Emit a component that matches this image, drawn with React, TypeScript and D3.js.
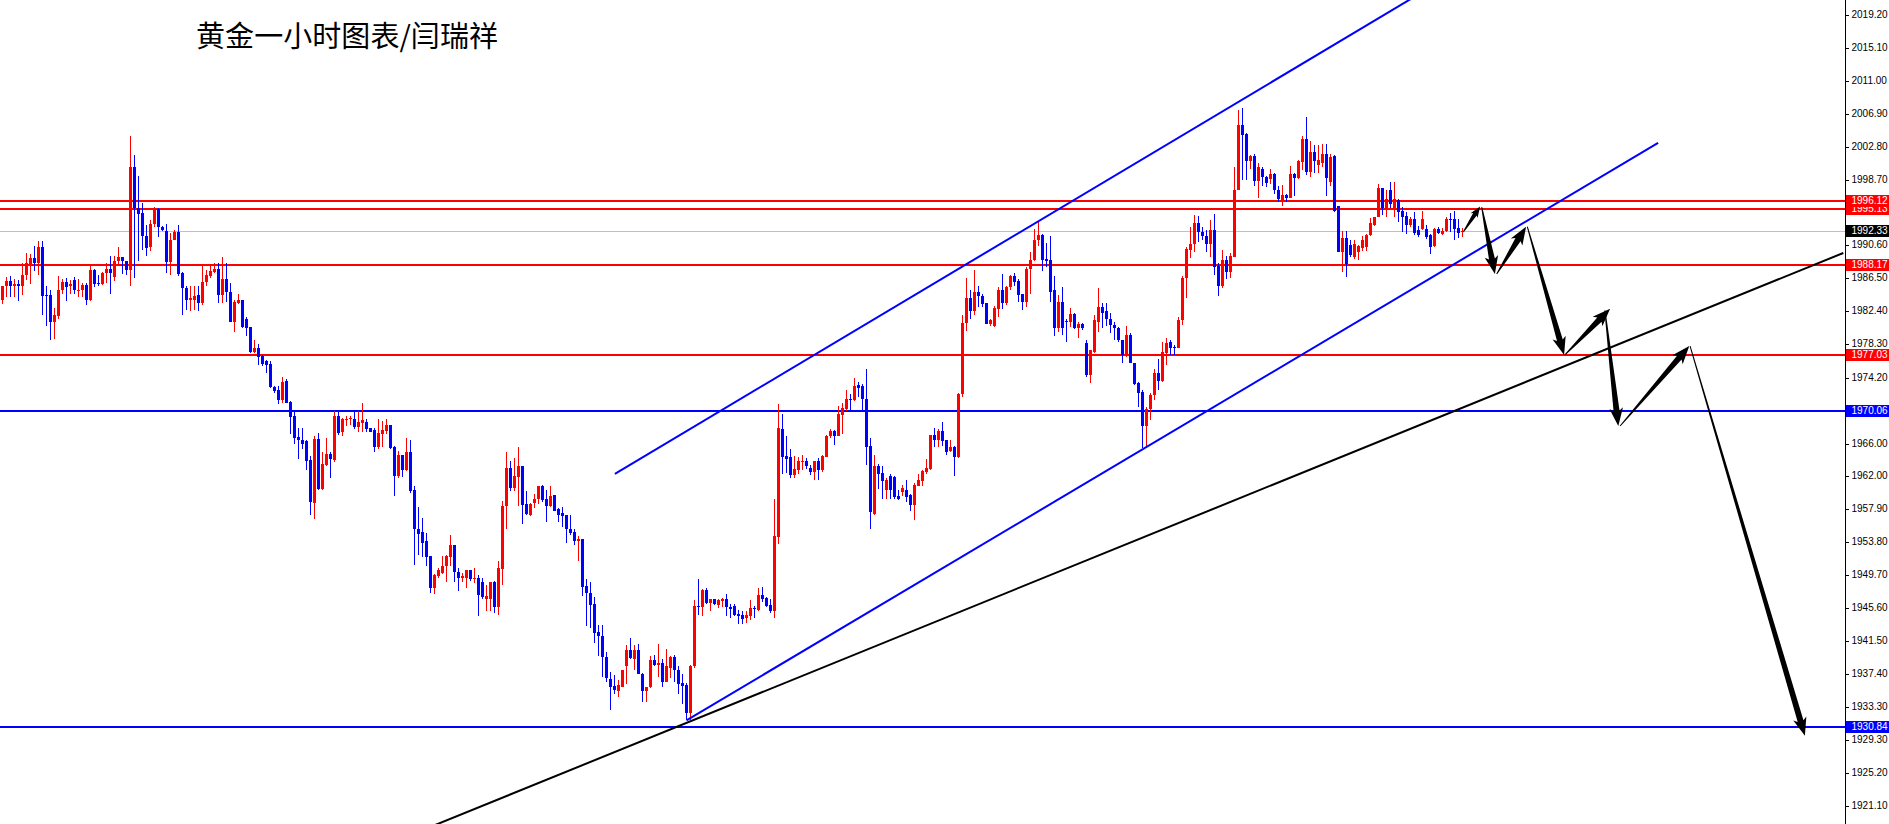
import React from 'react';
import * as d3 from 'd3';

const W = 1889;
const H = 824;
const AXIS_X = 1845;

// candles: [open, high, low, close]
const candlesA: number[][] = [
  [1983.8,1985.6,1983.3,1985.5],[1985.5,1986.7,1984.2,1986.2],[1986.2,1986.8,1984.2,1985.5],[1985.5,1986.4,1984.2,1985.8],
  [1985.8,1986.3,1983.7,1985.5],[1985.5,1988.4,1984.4,1986.9],[1986.9,1989.6,1986.3,1988.4],[1988.2,1989.5,1985.8,1989.0],
  [1989.0,1990.5,1987.4,1988.4],[1988.4,1991.1,1986.9,1990.4],[1990.4,1991.1,1981.9,1984.3],[1984.4,1985.5,1980.6,1984.3],
  [1984.4,1985.1,1978.8,1981.1],[1981.1,1982.8,1979.0,1981.9],[1981.8,1986.8,1981.5,1985.1],[1985.1,1986.4,1984.6,1986.0],
  [1986.0,1986.5,1983.7,1985.4],[1985.5,1986.3,1984.6,1985.8],[1986.3,1986.7,1984.6,1985.0],[1985.0,1986.4,1984.2,1985.1],
  [1985.0,1985.9,1984.2,1985.7],[1985.7,1985.9,1983.2,1983.8],[1983.8,1988.1,1983.7,1987.5],[1987.5,1987.6,1985.4,1985.8],
  [1985.9,1986.9,1985.5,1985.8],[1985.8,1987.3,1985.7,1987.1],[1987.1,1988.4,1985.9,1987.7],[1987.7,1989.3,1984.6,1987.1],
  [1986.6,1989.3,1986.2,1988.6],[1988.6,1990.4,1988.3,1989.2],[1989.2,1989.2,1987.0,1988.6],[1988.6,1988.6,1986.9,1987.5],
  [1987.5,2004.1,1985.6,2000.3],[2000.3,2001.8,1986.5,1995.2],[1995.2,1999.2,1988.7,1994.5],[1994.6,1995.8,1990.0,1991.7],
  [1991.7,1993.1,1989.3,1990.3],[1990.4,1993.7,1989.9,1993.2],[1993.2,1995.3,1992.9,1995.2],[1995.1,1995.2,1991.6,1992.8],
  [1992.9,1993.0,1992.4,1992.5],[1992.4,1993.2,1987.1,1988.5],[1988.5,1992.1,1986.9,1991.2],[1991.2,1992.5,1991.2,1992.2],
  [1992.2,1993.1,1986.8,1987.0],[1987.1,1987.3,1981.9,1985.3],[1985.3,1985.5,1982.6,1983.8],[1983.8,1985.5,1982.4,1984.1],
  [1983.8,1985.5,1982.6,1984.3],[1984.4,1985.5,1982.4,1983.4],[1983.4,1988.1,1983.2,1986.1],[1986.0,1987.5,1985.5,1986.9],
  [1986.8,1988.3,1986.5,1987.4],[1987.3,1988.4,1987.1,1987.7],[1987.7,1988.4,1983.4,1984.4],[1984.4,1989.2,1983.4,1986.4],
  [1986.4,1988.4,1983.6,1984.8],[1984.8,1985.9,1981.1,1981.1],[1981.1,1983.8,1979.9,1983.6],[1983.5,1984.5,1983.3,1983.8],
  [1983.8,1983.8,1980.3,1980.5],[1981.5,1981.7,1979.3,1980.4],[1980.5,1980.5,1977.2,1977.4],[1977.4,1978.9,1977.2,1977.8],
  [1977.9,1978.4,1975.8,1976.8],[1976.9,1977.0,1975.6,1975.9],
];

const candlesB: number[][] = [
  [1976.2,1976.4,1974.8,1975.8],[1975.9,1976.2,1972.9,1973.0],[1973.0,1973.1,1972.3,1972.5],[1972.7,1973.1,1970.9,1971.4],
  [1971.4,1974.3,1971.1,1973.7],[1973.8,1974.0,1971.0,1971.1],[1971.2,1971.3,1967.2,1969.3],[1969.4,1970.2,1966.0,1966.7],
  [1966.8,1967.9,1964.1,1966.4],[1966.5,1968.0,1965.4,1966.0],[1966.3,1966.5,1962.7,1963.9],[1964.0,1964.5,1957.2,1958.8],
  [1958.7,1967.0,1956.7,1966.6],[1966.6,1967.3,1960.2,1960.4],[1960.4,1965.0,1960.3,1963.5],[1963.4,1966.7,1963.2,1964.7],
  [1964.7,1965.0,1961.8,1964.1],[1964.0,1970.0,1963.7,1969.4],[1969.4,1970.0,1967.1,1967.3],[1967.5,1969.2,1966.9,1969.1],
  [1969.0,1969.4,1968.2,1969.1],[1969.0,1969.4,1968.3,1969.2],[1969.1,1970.2,1967.8,1968.1],[1968.1,1970.0,1967.5,1968.7],
  [1968.6,1971.1,1967.4,1968.9],[1968.7,1969.0,1967.5,1967.8],[1967.9,1968.0,1967.4,1967.5],[1967.7,1968.0,1965.0,1965.6],
  [1965.6,1969.1,1965.4,1967.3],[1967.2,1968.8,1965.6,1967.7],[1967.6,1969.0,1967.2,1968.3],[1968.3,1968.3,1965.3,1965.5],
  [1965.6,1965.7,1959.5,1962.0],[1962.0,1965.1,1961.8,1964.6],[1964.6,1964.6,1961.9,1962.7],[1962.7,1966.7,1962.6,1965.0],
  [1965.0,1966.5,1959.9,1960.1],[1960.3,1960.7,1950.9,1955.4],[1955.4,1958.1,1952.2,1954.8],[1955.0,1956.8,1952.0,1953.7],
  [1953.9,1954.9,1950.8,1952.0],[1952.1,1952.1,1947.5,1948.1],[1948.1,1949.9,1947.4,1949.7],[1949.6,1950.6,1949.4,1950.3],
  [1950.0,1952.1,1949.9,1950.8],[1950.8,1952.2,1948.9,1952.1],[1952.0,1954.7,1950.8,1953.4],[1953.4,1953.4,1948.9,1950.1],
  [1950.1,1950.6,1947.8,1949.3],[1949.3,1950.0,1948.9,1949.6],[1949.4,1950.4,1948.1,1950.3],[1950.3,1950.4,1949.0,1949.2],
  [1949.2,1950.6,1948.7,1949.4],[1949.4,1949.7,1944.6,1947.2],[1948.8,1949.3,1946.7,1947.0],[1946.8,1948.5,1945.3,1947.1],
  [1946.8,1948.9,1945.2,1948.8],[1948.8,1949.0,1945.0,1945.8],[1945.8,1951.5,1944.8,1950.6],[1950.5,1958.9,1948.5,1958.3],
  [1958.3,1965.0,1955.4,1963.0],[1963.0,1963.9,1960.1,1960.5],[1960.5,1964.2,1960.1,1962.0],[1961.9,1965.6,1958.3,1963.2],
  [1963.2,1963.2,1956.0,1958.4],[1958.5,1960.1,1957.2,1957.3],[1957.2,1958.7,1957.0,1958.5],[1958.7,1959.8,1958.0,1959.1],
  [1959.1,1960.8,1958.5,1960.7],[1960.7,1960.9,1958.8,1959.0],[1959.1,1960.3,1956.3,1958.3],[1958.3,1960.7,1958.2,1959.5],
  [1959.6,1959.6,1957.6,1957.7],[1957.9,1958.0,1956.3,1957.2],[1957.4,1958.2,1955.7,1957.0],[1957.1,1957.2,1953.7,1955.4],
  [1955.4,1957.2,1954.7,1954.9],[1955.0,1955.4,1953.4,1953.9],[1953.9,1954.5,1951.5,1954.2],[1954.2,1954.2,1947.1,1948.2],
  [1948.4,1949.2,1943.4,1947.5],[1947.5,1948.8,1943.1,1946.0],[1946.1,1947.0,1941.3,1942.5],[1942.6,1943.5,1939.7,1942.1],
  [1942.2,1943.5,1937.1,1939.6],[1939.6,1940.2,1936.5,1937.0],[1936.8,1937.7,1933.0,1935.9],[1936.0,1937.3,1935.0,1935.5],
  [1935.4,1936.7,1934.6,1936.1],
];

const candlesC: number[][] = [
  [1935.9,1937.9,1935.8,1937.9],[1938.5,1941.1,1936.2,1940.4],[1940.4,1941.9,1939.3,1939.4],[1939.3,1941.1,1938.0,1940.4],
  [1940.4,1941.2,1937.5,1937.5],[1937.5,1937.6,1934.0,1935.3],[1935.3,1935.9,1934.0,1935.8],[1935.8,1939.7,1935.7,1939.2],
  [1939.2,1939.8,1938.5,1938.6],[1938.6,1941.2,1937.1,1938.8],[1938.8,1939.3,1935.9,1936.5],[1936.5,1940.6,1936.4,1938.4],
  [1938.2,1939.7,1937.0,1939.6],[1939.6,1939.8,1936.5,1938.0],[1938.0,1938.4,1935.0,1936.2],[1936.3,1937.4,1933.7,1936.0],
  [1936.1,1936.3,1931.7,1932.6],[1932.6,1938.6,1931.8,1938.4],[1938.4,1946.6,1938.2,1945.9],[1945.9,1949.2,1944.8,1945.7],
  [1945.8,1948.0,1944.6,1947.9],[1947.9,1948.1,1946.1,1946.2],[1946.2,1946.8,1945.2,1946.7],[1946.7,1946.7,1946.0,1946.1],
  [1946.0,1946.7,1945.6,1946.6],[1946.5,1946.9,1945.8,1946.8],[1946.8,1947.4,1944.6,1945.7],[1945.8,1946.1,1944.4,1945.5],
  [1945.9,1946.1,1944.6,1944.8],[1944.9,1945.4,1943.7,1944.6],[1944.8,1945.3,1943.7,1944.3],[1944.4,1945.3,1943.8,1944.8],
  [1944.6,1946.6,1944.2,1945.6],[1945.6,1945.9,1944.4,1945.5],[1945.4,1948.1,1945.3,1947.3],[1947.3,1948.2,1946.4,1946.8],
  [1946.9,1947.0,1945.7,1945.9],[1946.0,1946.7,1945.0,1945.2],[1945.2,1959.1,1944.4,1954.5],[1954.4,1970.9,1953.6,1967.9],
  [1967.8,1969.7,1962.3,1964.4],[1964.5,1966.9,1962.4,1964.1],[1964.3,1965.3,1961.7,1962.1],[1962.1,1964.5,1961.7,1962.9],
  [1962.7,1964.3,1962.2,1963.8],[1963.8,1964.6,1962.7,1963.9],[1963.9,1964.2,1962.8,1963.2],[1963.0,1963.4,1962.1,1962.5],
  [1962.5,1963.9,1961.5,1963.8],[1963.8,1964.2,1961.5,1962.7],[1962.7,1964.6,1962.5,1964.5],[1964.4,1967.1,1964.3,1967.0],
  [1966.9,1967.8,1966.7,1967.6],[1967.6,1967.7,1965.8,1967.0],[1967.0,1970.7,1966.9,1969.7],[1969.6,1971.1,1967.2,1970.4],
  [1970.3,1972.7,1970.0,1971.6],[1971.5,1972.2,1969.9,1971.4],[1971.4,1974.1,1971.3,1973.2],[1973.3,1973.7,1971.8,1972.9],
  [1973.1,1973.4,1970.2,1971.5],[1971.6,1975.3,1963.4,1965.6],[1965.7,1966.7,1955.4,1957.5],[1957.3,1964.6,1957.2,1963.2],
  [1963.2,1963.5,1960.4,1962.3],[1962.4,1963.2,1959.2,1961.4],[1960.3,1961.8,1959.1,1961.5],[1962.0,1962.3,1959.2,1960.3],
  [1961.9,1962.0,1959.1,1959.4],[1959.5,1960.3,1959.0,1959.1],[1960.0,1960.9,1959.5,1960.5],[1960.3,1961.5,1958.8,1959.4],
  [1959.6,1959.8,1957.7,1958.4],[1958.4,1961.1,1956.5,1960.9],[1960.8,1962.2,1960.8,1961.5],[1961.4,1962.7,1960.8,1962.6],
  [1962.5,1964.1,1962.3,1963.0],[1962.8,1967.1,1962.7,1967.1],[1967.1,1967.9,1965.6,1966.5],[1966.5,1967.8,1965.6,1967.6],
  [1967.6,1968.7,1965.7,1966.3],[1966.4,1966.5,1964.6,1965.0],[1965.1,1966.5,1965.0,1965.6],[1965.6,1965.7,1962.0,1964.3],
  [1964.3,1972.3,1964.2,1972.2],[1972.2,1982.0,1971.8,1981.0],[1981.0,1986.5,1980.0,1984.0],[1984.0,1985.0,1981.5,1982.5],
  [1982.5,1987.5,1982.0,1984.8],[1984.8,1985.5,1983.0,1984.3],
];

const candlesD: number[][] = [
  [1984.3,1984.6,1983.0,1983.3],[1983.4,1983.5,1980.8,1980.8],[1980.8,1981.5,1980.6,1981.3],[1980.6,1983.1,1980.5,1982.8],
  [1982.7,1985.4,1981.7,1985.1],[1985.1,1987.0,1982.7,1983.5],[1983.5,1985.5,1983.2,1985.4],[1985.4,1986.9,1985.1,1986.8],
  [1986.8,1987.2,1985.5,1986.1],[1986.2,1986.4,1983.6,1984.4],[1984.6,1984.6,1982.6,1983.6],[1983.6,1987.9,1982.9,1987.7],
  [1987.7,1989.8,1984.6,1988.8],[1988.8,1992.6,1988.7,1991.3],[1991.2,1993.5,1990.5,1991.9],[1991.9,1992.0,1987.4,1988.8],
  [1988.9,1990.9,1987.9,1988.6],[1988.8,1991.7,1983.6,1984.8],[1985.0,1986.8,1979.3,1980.4],[1980.3,1984.4,1979.9,1983.6],
  [1983.6,1985.4,1979.5,1980.3],[1981.2,1981.4,1978.6,1981.1],[1981.1,1982.8,1980.5,1982.1],[1982.1,1982.2,1980.2,1980.3],
  [1980.3,1981.1,1979.1,1980.8],[1980.8,1981.0,1980.1,1980.4],[1978.5,1978.9,1974.3,1974.5],[1974.5,1977.6,1973.5,1977.6],
  [1977.4,1981.9,1977.3,1981.3],[1981.1,1985.3,1979.9,1983.0],[1983.0,1983.4,1980.3,1982.2],[1982.4,1983.4,1980.6,1981.5],
  [1981.5,1982.2,1979.7,1980.7],[1980.7,1981.1,1978.9,1980.3],[1980.3,1980.5,1978.6,1978.8],[1978.8,1978.9,1976.0,1977.0],
  [1977.0,1980.6,1976.8,1979.5],[1979.5,1979.7,1976.0,1976.0],[1976.0,1976.0,1973.3,1973.4],[1973.5,1973.6,1970.6,1972.3],
  [1972.4,1972.6,1965.5,1968.2],[1968.2,1970.5,1965.7,1970.3],[1970.3,1972.3,1968.9,1972.0],[1972.0,1975.3,1971.4,1974.8],
  [1974.7,1976.5,1972.6,1973.8],[1973.8,1978.6,1973.6,1977.4],[1977.3,1979.1,1975.7,1978.5],[1978.6,1978.9,1977.0,1977.8],
  [1978.0,1978.2,1977.0,1977.8],[1977.8,1981.7,1977.8,1981.3],[1981.3,1986.8,1980.7,1986.5],[1986.5,1990.4,1984.0,1990.1],
  [1990.0,1992.8,1989.0,1990.8],[1990.7,1994.3,1989.7,1993.4],[1993.4,1994.2,1991.0,1992.2],
];

const candlesE: number[][] = [
  [1992.2,1992.9,1991.2,1991.7],[1991.7,1992.5,1989.7,1990.7],[1990.7,1993.7,1989.2,1992.5],[1992.5,1994.5,1986.9,1987.9],
  [1988.0,1988.4,1984.3,1985.5],[1985.5,1990.0,1985.3,1988.8],[1988.8,1989.3,1986.4,1987.3],[1987.3,1989.6,1986.5,1989.3],
  [1989.2,2000.3,1989.2,1997.5],[1997.4,2007.4,1997.4,2005.5],[2005.5,2007.6,1998.7,2004.3],[2004.4,2004.5,1998.7,2001.1],
  [2001.1,2001.8,2000.1,2001.7],[2001.7,2001.9,1997.9,1998.6],[1998.6,2000.8,1996.4,2000.3],[2000.1,2000.3,1997.9,1999.1],
  [1999.1,1999.2,1997.8,1998.3],[1998.8,2000.0,1998.2,1999.4],[1999.4,1999.5,1997.0,1997.5],[1997.5,1997.9,1995.9,1996.3],
  [1996.2,1998.1,1995.5,1996.8],[1996.8,1997.0,1996.0,1996.4],[1996.5,2000.4,1996.4,1999.4],[1999.4,1999.5,1996.7,1998.9],
  [1998.9,2001.2,1998.8,2001.0],[2000.9,2004.1,1999.9,2003.8],[2003.8,2006.5,1999.3,1999.7],[1999.7,2003.5,1999.0,2002.1],
  [2002.1,2003.0,1999.6,2001.0],[2000.6,2003.0,1999.5,2001.2],[2000.8,2003.1,2000.3,2001.9],[2001.9,2003.2,1996.7,1998.9],
  [1998.4,2001.9,1998.0,2001.5],[2001.6,2001.8,1994.7,1994.9],[1995.5,1995.5,1989.7,1989.7],[1989.7,1992.4,1987.3,1991.5],
  [1991.5,1992.4,1986.6,1988.3],[1990.6,1991.2,1989.2,1989.4],[1989.2,1991.2,1988.9,1990.7],[1989.8,1990.6,1988.8,1990.5],
  [1990.2,1991.8,1989.9,1991.3],[1990.4,1992.0,1989.9,1991.9],[1991.9,1994.0,1991.8,1993.3],[1993.1,1994.1,1993.0,1994.1],
  [1994.1,1998.2,1994.1,1997.7],[1997.7,1997.7,1994.3,1995.2],[1995.2,1997.5,1994.1,1996.3],[1997.4,1998.4,1995.2,1995.7],
  [1995.2,1998.4,1994.1,1996.3],[1996.2,1996.3,1993.5,1994.7],[1994.9,1995.3,1992.2,1994.1],[1994.2,1994.7,1992.0,1993.1],
  [1993.1,1994.1,1992.8,1993.8],[1993.8,1994.7,1991.9,1992.1],[1992.5,1993.0,1991.6,1991.9],[1992.6,1994.9,1992.5,1993.8],
  [1992.6,1993.1,1991.4,1991.6],[1991.9,1992.0,1989.5,1990.4],[1990.5,1992.7,1990.4,1992.6],[1992.6,1992.8,1992.0,1992.1],
  [1992.0,1992.7,1991.9,1992.4],[1992.4,1994.1,1992.3,1993.9],[1993.9,1994.6,1992.2,1993.7],[1993.8,1994.8,1991.2,1992.6],
  [1992.7,1993.8,1991.5,1992.1],[1992.3,1992.7,1991.6,1992.33],
];

const candles = [...candlesA, ...candlesB, ...candlesC, ...candlesD, ...candlesE];

const tickLabels = [
  '2019.20','2015.10','2011.00','2006.90','2002.80','1998.70','1994.70','1990.60','1986.50','1982.40',
  '1978.30','1974.20','1970.10','1966.00','1962.00','1957.90','1953.80','1949.70','1945.60','1941.50',
  '1937.40','1933.30','1929.30','1925.20','1921.10',
];

const redLevels = [1977.03, 1988.17, 1995.13, 1996.12];
const blueLevels = [1930.84, 1970.06];
const currentPrice = 1992.33;

// trend lines: [barIndex, price]
const blackTrend = [[107.5, 1918.6], [460.2, 1989.64]];
const channelLower = [[171.0, 1931.7], [413.9, 2003.28]];
const channelUpper = [[153.1, 1962.25], [353.0, 2021.4]];

// arrows: [barIndex1, price1, barIndex2, price2]
const arrows = [
  [365.2, 1992.24, 369.4, 1995.41],
  [369.8, 1995.33, 373.1, 1987.03],
  [373.55, 1987.03, 380.9, 1992.9],
  [381.2, 1992.9, 390.4, 1977.0],
  [390.6, 1977.0, 401.9, 1982.74],
  [400.6, 1982.52, 403.95, 1968.19],
  [404.4, 1968.19, 421.7, 1978.1],
  [421.9, 1978.1, 450.6, 1929.79],
];

const title = '黄金一小时图表/闫瑞祥';

const RED = '#FF0000';
const BLUE = '#0000FF';

function arrowPoints(x1: number, y1: number, x2: number, y2: number): string {
  const dx = x2 - x1, dy = y2 - y1;
  const L = Math.hypot(dx, dy);
  const ux = dx / L, uy = dy / L;
  const nx = -uy, ny = ux;
  const headLen = Math.min(18, L * 0.36);
  const k = headLen / 18;
  const headHalf = 6.8 * k;
  const shaftHalf = 3.0 * Math.max(0.7, k);
  const startHalf = 0.5;
  const bx = x2 - ux * headLen, by = y2 - uy * headLen;
  const notch = headLen * 0.15;
  const pts = [
    [x1 + nx * startHalf, y1 + ny * startHalf],
    [bx + ux * notch + nx * shaftHalf, by + uy * notch + ny * shaftHalf],
    [bx + nx * headHalf, by + ny * headHalf],
    [x2, y2],
    [bx - nx * headHalf, by - ny * headHalf],
    [bx + ux * notch - nx * shaftHalf, by + uy * notch - ny * shaftHalf],
    [x1 - nx * startHalf, y1 - ny * startHalf],
  ];
  return pts.map((p) => `${p[0].toFixed(2)},${p[1].toFixed(2)}`).join(' ');
}

export default function App() {
  const x = d3.scaleLinear().domain([0, 365]).range([2.5, 1462.5]);
  const y = d3.scaleLinear().domain([2019.2, 1921.1]).range([14.5, 805.9]);

  const line = d3
    .line<number[]>()
    .x((d) => x(d[0]))
    .y((d) => y(d[1]));

  const labelFont = "'Liberation Sans', Arial, sans-serif";

  const levelBox = (price: number, bg: string, key: string) => {
    const yy = Math.round(y(price));
    return (
      <g key={key}>
        <rect x={AXIS_X + 1} y={yy - 6} width={W - AXIS_X - 1} height={12} fill={bg} />
        <text x={1851.5} y={yy + 0.5} fontSize={10} fontFamily={labelFont} fill="#FFFFFF" dominantBaseline="middle">
          {price.toFixed(2)}
        </text>
      </g>
    );
  };

  return (
    <svg
      width={W}
      height={H}
      viewBox={`0 0 ${W} ${H}`}
      style={{ position: 'absolute', left: 0, top: 0, background: '#FFFFFF' }}
    >
      <defs>
        <clipPath id="plot">
          <rect x={0} y={0} width={AXIS_X} height={H} />
        </clipPath>
      </defs>
      <rect x={0} y={0} width={W} height={H} fill="#FFFFFF" />

      <text
        x={196}
        y={47}
        fontSize={29}
        fontFamily="'Noto Sans CJK SC', 'Noto Sans', sans-serif"
        fill="#000000"
        textLength={302}
        lengthAdjust="spacing"
      >
        {title}
      </text>

      <g clipPath="url(#plot)">
        {/* horizontal levels */}
        <rect x={0} y={Math.round(y(currentPrice))} width={AXIS_X} height={1} fill="#C0C0C0" />
        {redLevels.map((p) => (
          <rect key={`r${p}`} x={0} y={Math.round(y(p)) - 1} width={AXIS_X} height={2} fill={RED} />
        ))}
        {blueLevels.map((p) => (
          <rect key={`b${p}`} x={0} y={Math.round(y(p)) - 1} width={AXIS_X} height={2} fill={BLUE} />
        ))}

        {/* candles */}
        <g shapeRendering="crispEdges">
          {candles.map((c, i) => {
            const [o, h, l, cl] = c;
            const cx = x(i);
            const color = cl > o ? RED : BLUE;
            const bt = Math.round(y(Math.max(o, cl)));
            const bb = Math.round(y(Math.min(o, cl)));
            const wt = Math.round(y(h));
            const wb = Math.round(y(l));
            return (
              <g key={i}>
                <rect x={Math.floor(cx)} y={wt} width={1} height={Math.max(1, wb - wt)} fill={color} />
                <rect x={Math.floor(cx) - 1} y={bt} width={3} height={Math.max(1, bb - bt)} fill={color} />
              </g>
            );
          })}
        </g>

        {/* trend lines */}
        <path d={line(channelUpper) || ''} stroke={BLUE} strokeWidth={2} fill="none" />
        <path d={line(channelLower) || ''} stroke={BLUE} strokeWidth={2} fill="none" />
        <path d={line(blackTrend) || ''} stroke="#000000" strokeWidth={2} fill="none" />

        {/* arrows */}
        {arrows.map((a, i) => (
          <polygon key={`a${i}`} points={arrowPoints(x(a[0]), y(a[1]), x(a[2]), y(a[3]))} fill="#000000" />
        ))}
      </g>

      {/* right axis */}
      <rect x={AXIS_X} y={0} width={1} height={H} fill="#000000" />
      {tickLabels.map((t) => {
        const yy = Math.round(y(+t));
        return (
          <g key={t}>
            <rect x={AXIS_X + 1} y={yy} width={3} height={1} fill="#000000" />
            <text x={1851.5} y={yy + 0.5} fontSize={10} fontFamily={labelFont} fill="#000000" dominantBaseline="middle">
              {t}
            </text>
          </g>
        );
      })}
      {levelBox(1970.06, BLUE, 'l1')}
      {levelBox(1930.84, BLUE, 'l2')}
      {levelBox(1977.03, RED, 'l3')}
      {levelBox(1988.17, RED, 'l4')}
      {levelBox(currentPrice, '#000000', 'l5')}
      {levelBox(1995.13, RED, 'l6')}
      {levelBox(1996.12, RED, 'l7')}
    </svg>
  );
}
